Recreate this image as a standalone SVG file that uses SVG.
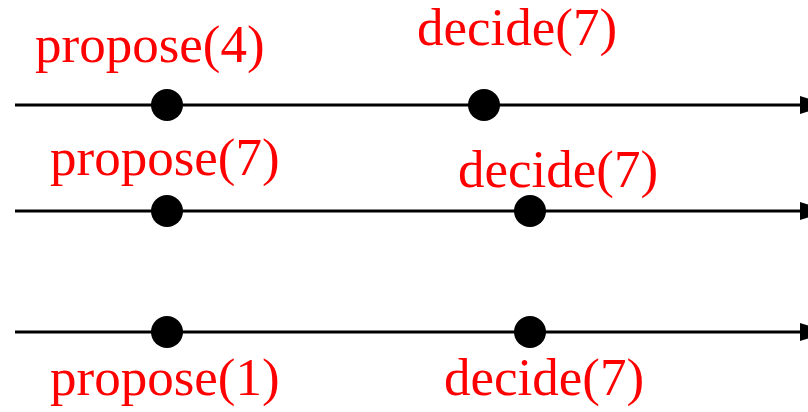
<svg xmlns="http://www.w3.org/2000/svg" width="808" height="412" viewBox="0 0 808 412">
<style>
.lbl{font-family:"Liberation Serif","Times New Roman",serif;font-size:53px;fill:#ff0000}
.ln{stroke:#000;stroke-width:3;fill:none}
.dot{fill:#000}
</style>
<defs>
<marker id="ah" markerWidth="10" markerHeight="6" refX="0" refY="3" orient="auto" markerUnits="strokeWidth"><path d="M0,0 L10,3 L0,6 Z" fill="#000"/></marker>
</defs>
<g id="connectors">
<line class="ln" x1="15" y1="105" x2="800" y2="105" marker-end="url(#ah)"/>
<line class="ln" x1="15" y1="211" x2="800" y2="211" marker-end="url(#ah)"/>
<line class="ln" x1="15" y1="332" x2="800" y2="332" marker-end="url(#ah)"/>
</g>
<g id="p1a"><circle class="dot" cx="167" cy="105" r="16"/><text class="lbl" x="35" y="62">propose(4)</text></g>
<g id="p1b"><circle class="dot" cx="484" cy="105" r="16"/><text class="lbl" x="417" y="45">decide(7)</text></g>
<g id="p2a"><circle class="dot" cx="167" cy="211" r="16"/><text class="lbl" x="50" y="175">propose(7)</text></g>
<g id="p2b"><circle class="dot" cx="530" cy="211" r="16"/><text class="lbl" x="458" y="187">decide(7)</text></g>
<g id="p3a"><circle class="dot" cx="167" cy="332" r="16"/><text class="lbl" x="50" y="395">propose(1)</text></g>
<g id="p3b"><circle class="dot" cx="530" cy="332" r="16"/><text class="lbl" x="444" y="395">decide(7)</text></g>
</svg>
